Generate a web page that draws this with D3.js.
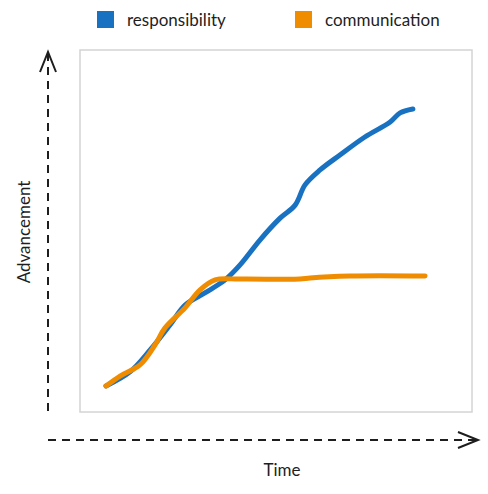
<!DOCTYPE html><html><head><meta charset="utf-8"><script src="https://cdn.jsdelivr.net/npm/d3@7"></script>
<style>body{margin:0;background:#fff}</style></head><body><svg id="c" width="488" height="494"></svg>
<script>
const seriesNames=["responsibility","communication"];
const colors=["#1971c2","#f08c00"];
const respT=[0,7.5,13.8,20,24.7,30.9,37.2,41.9,48.1,54.4,59.1,62.2,66.9,73.1,80.9,88.8,91.9,95.9];
const respV=[0,5.1,13,22,29.2,33.6,38.3,43.7,52.7,60.6,65.3,72.6,78,83.4,89.9,95.3,98.6,100];
const commT=[0,4.4,10.6,15.3,18.4,24.7,29.4,34.1,41.9,60.6,63.8,76.3,99.7];
const commV=[0,3.6,7.6,14.8,20.9,28.2,34.7,38.3,38.6,38.6,39,39.7,39.7];
const xLabel="Time", yLabel="Advancement";
const svg=d3.select("#c");
const font="Lato, sans-serif";
const x=d3.scaleLinear([0,100],[106,426]);
const y=d3.scaleLinear([0,100],[386,109]);
svg.append("rect").attr("x",80).attr("y",50).attr("width",392).attr("height",362).attr("fill","none").attr("stroke","#d4d4d4").attr("stroke-width",1.5);
// axes arrows
svg.append("line").attr("x1",48).attr("y1",411).attr("x2",48).attr("y2",54).attr("stroke","#1e1e1e").attr("stroke-width",2).attr("stroke-dasharray","8,6");
svg.append("path").attr("d","M40,72 L48,52 L56,72").attr("fill","none").attr("stroke","#1e1e1e").attr("stroke-width",2);
svg.append("line").attr("x1",48).attr("y1",440).attr("x2",476).attr("y2",440).attr("stroke","#1e1e1e").attr("stroke-width",2).attr("stroke-dasharray","8,6");
svg.append("path").attr("d","M458,432 L478,440 L458,448").attr("fill","none").attr("stroke","#1e1e1e").attr("stroke-width",2);
svg.append("text").attr("x",282).attr("y",476).attr("text-anchor","middle").attr("font-family",font).attr("font-size",17).attr("fill","#1e1e1e").text(xLabel);
svg.append("text").attr("transform","translate(30,232) rotate(-90)").attr("text-anchor","middle").attr("font-family",font).attr("font-size",17).attr("fill","#1e1e1e").text(yLabel);
const line=d3.line().x(d=>x(d[0])).y(d=>y(d[1])).curve(d3.curveCatmullRom);
[[respT,respV],[commT,commV]].forEach((s,i)=>{
  svg.append("path").datum(s[0].map((t,j)=>[t,s[1][j]])).attr("d",line).attr("fill","none").attr("stroke",colors[i]).attr("stroke-width",5).attr("stroke-linecap","round").attr("stroke-linejoin","round");
});
const lx=[97,295];
seriesNames.forEach((n,i)=>{
  svg.append("rect").attr("x",lx[i]).attr("y",11).attr("width",17).attr("height",17).attr("fill",colors[i]);
  svg.append("text").attr("x",lx[i]+30).attr("y",26).attr("font-family",font).attr("font-size",17).attr("fill","#1e1e1e").text(n);
});
</script></body></html>
